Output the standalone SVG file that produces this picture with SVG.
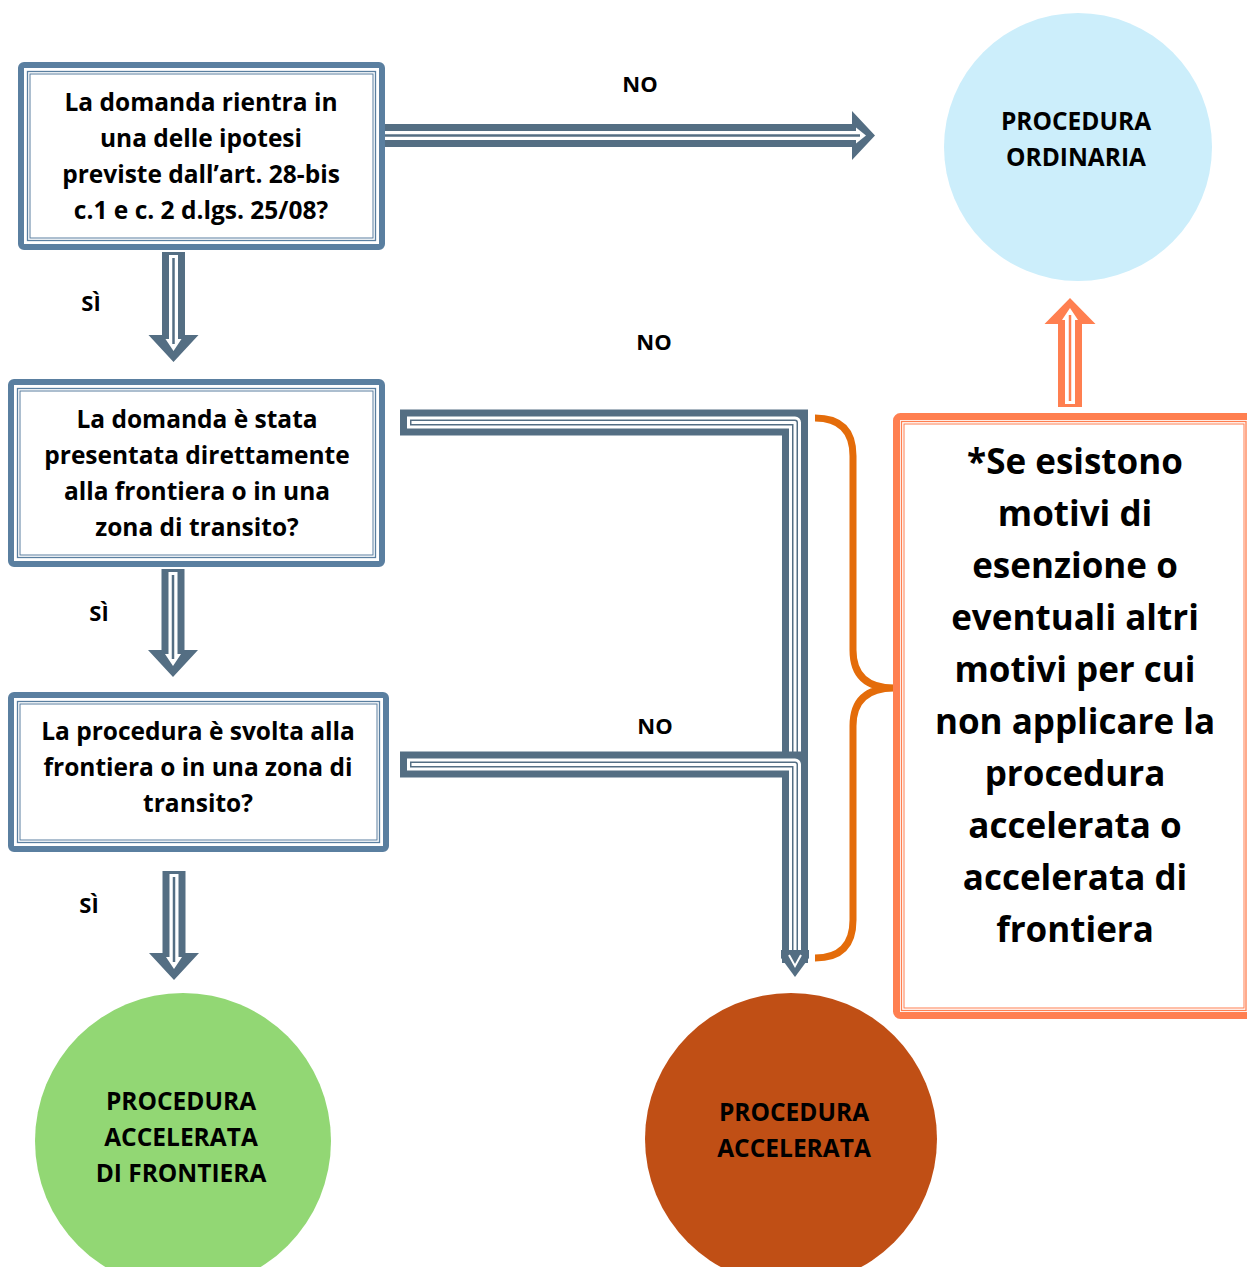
<svg xmlns="http://www.w3.org/2000/svg" width="1247" height="1267" viewBox="0 0 1247 1267">
<style>
text{font-family:"Open Sans","Liberation Sans",sans-serif;font-weight:bold;fill:#000;text-anchor:middle}
.bt{font-size:24.5px}
.lbl{font-size:22px}
.big{font-size:35px}
.bx{fill:#fff;stroke:#5A7FA0}
.ob{fill:#fff;stroke:#FF7F50}
.ad{fill:#546E83}
.aw{fill:#fff}
.al{fill:none;stroke:#546E83;stroke-width:2.5}
.od{fill:#FF7F50}
.ol{fill:none;stroke:#FF7F50;stroke-width:2.5}
.c1{fill:none;stroke:#546E83;stroke-width:26;stroke-linejoin:miter;stroke-linecap:square}
.c2{fill:none;stroke:#fff;stroke-width:12;stroke-linejoin:round;stroke-linecap:square}
.c3{fill:none;stroke:#546E83;stroke-width:6;stroke-linejoin:round;stroke-linecap:square}
.c4{fill:none;stroke:#fff;stroke-width:3;stroke-linejoin:round;stroke-linecap:square}
</style>
<rect width="1247" height="1267" fill="#fff"/>

<g id="connectors">
  <g transform="translate(378,135.5)">
    <path class="ad" d="M0,-11.5 H474 V-24.5 L497,0 L474,24.5 V11.5 H0 Z"/>
    <path class="aw" d="M3,-4.5 H478 V-8 L488,0 L478,8 V4.5 H3 Z"/>
    <path class="al" d="M6,0 H482"/>
  </g>
  <g transform="translate(173.5,252) rotate(90)">
    <path class="ad" d="M0,-11.5 H83 V-25 L110,0 L83,25 V11.5 H0 Z"/>
    <path class="aw" d="M3,-4.5 H87 V-8 L99,0 L87,8 V4.5 H3 Z"/>
    <path class="al" d="M6,0 H92"/>
  </g>
  <g transform="translate(173,569) rotate(90)">
    <path class="ad" d="M0,-11.5 H81 V-25 L108,0 L81,25 V11.5 H0 Z"/>
    <path class="aw" d="M3,-4.5 H85 V-8 L97,0 L85,8 V4.5 H3 Z"/>
    <path class="al" d="M6,0 H90"/>
  </g>
  <g transform="translate(174,871) rotate(90)">
    <path class="ad" d="M0,-11.5 H82 V-25 L109,0 L82,25 V11.5 H0 Z"/>
    <path class="aw" d="M3,-4.5 H86 V-8 L98,0 L86,8 V4.5 H3 Z"/>
    <path class="al" d="M6,0 H91"/>
  </g>
  <g transform="translate(1070,407) rotate(-90)">
    <path class="od" d="M0,-12 H83 V-25.5 L109,0 L83,25.5 V12 H0 Z"/>
    <path class="aw" d="M3,-5 H87 V-8 L99,0 L87,8 V5 H3 Z"/>
    <path class="ol" d="M6,0 H92"/>
  </g>
  <g>
    <path class="c1" d="M413,422.5 H795 V950"/>
    <path class="c2" d="M413,422.5 H795 V950"/>
    <path class="c3" d="M413,422.5 H795 V950"/>
    <path class="c4" d="M413,422.5 H795 V950"/>
  </g>
  <g>
    <path class="c1" d="M413,764.5 H795 V950"/>
    <path class="c2" d="M413,764.5 H795 V950"/>
    <path class="c3" d="M413,764.5 H795 V950"/>
    <path class="c4" d="M413,764.5 H795 V950"/>
  </g>
  <path class="ad" d="M781,950 H809 V958 L795,977 L781,958 Z"/>
  <path d="M789,955 L795,966 L801,955" fill="none" stroke="#fff" stroke-width="2"/>
  <path d="M815,418 Q853,418 853,456 V650 Q853,688 894,688 Q853,688 853,726 V920 Q853,958 815,958" fill="none" stroke="#E46C0A" stroke-width="7" stroke-linejoin="round"/>
</g>

<g id="labels">
  <text class="lbl" x="640" y="92">NO</text>
  <text class="lbl" x="654" y="350">NO</text>
  <text class="lbl" x="655" y="734">NO</text>
  <text class="lbl" x="91" y="311">SÌ</text>
  <text class="lbl" x="99" y="621">SÌ</text>
  <text class="lbl" x="89" y="913">SÌ</text>
</g>

<g id="q1">
  <rect class="bx" x="21" y="65" width="361" height="182" rx="3" stroke-width="6"/>
  <rect x="27.5" y="71.5" width="348" height="169" fill="none" stroke="#5A7FA0" stroke-width="1.3"/>
  <rect x="30" y="74" width="343" height="164" fill="none" stroke="#5A7FA0" stroke-width="1"/>
  <text class="bt" x="201" y="111">La domanda rientra in</text>
  <text class="bt" x="201" y="147">una delle ipotesi</text>
  <text class="bt" x="201" y="183">previste dall’art. 28-bis</text>
  <text class="bt" x="201" y="219">c.1 e c. 2 d.lgs. 25/08?</text>
</g>

<g id="q2">
  <rect class="bx" x="11" y="382" width="371" height="182" rx="3" stroke-width="6"/>
  <rect x="17.5" y="388.5" width="358" height="169" fill="none" stroke="#5A7FA0" stroke-width="1.3"/>
  <rect x="20" y="391" width="353" height="164" fill="none" stroke="#5A7FA0" stroke-width="1"/>
  <text class="bt" x="197" y="428">La domanda è stata</text>
  <text class="bt" x="197" y="464">presentata direttamente</text>
  <text class="bt" x="197" y="500">alla frontiera o in una</text>
  <text class="bt" x="197" y="536">zona di transito?</text>
</g>

<g id="q3">
  <rect class="bx" x="11" y="695" width="375" height="154" rx="3" stroke-width="6"/>
  <rect x="17.5" y="701.5" width="362" height="141" fill="none" stroke="#5A7FA0" stroke-width="1.3"/>
  <rect x="20" y="704" width="357" height="136" fill="none" stroke="#5A7FA0" stroke-width="1"/>
  <text class="bt" x="198" y="740">La procedura è svolta alla</text>
  <text class="bt" x="198" y="776">frontiera o in una zona di</text>
  <text class="bt" x="198" y="812">transito?</text>
</g>

<g id="note">
  <rect class="ob" x="896.5" y="416.5" width="356" height="599" rx="4" stroke-width="7"/>
  <rect x="901.5" y="421.5" width="344.5" height="589" fill="none" stroke="#FF7F50" stroke-width="1.3"/>
  <rect x="904" y="424" width="340" height="584" fill="none" stroke="#FF7F50" stroke-width="1"/>
  <text class="big" x="1075" y="473.5">*Se esistono</text>
  <text class="big" x="1075" y="525.6">motivi di</text>
  <text class="big" x="1075" y="577.7">esenzione o</text>
  <text class="big" x="1075" y="629.8">eventuali altri</text>
  <text class="big" x="1075" y="681.9">motivi per cui</text>
  <text class="big" x="1075" y="734">non applicare la</text>
  <text class="big" x="1075" y="786.1">procedura</text>
  <text class="big" x="1075" y="838.2">accelerata o</text>
  <text class="big" x="1075" y="890.3">accelerata di</text>
  <text class="big" x="1075" y="942.4">frontiera</text>
</g>

<g id="ordinaria">
  <circle cx="1078" cy="147" r="134" fill="#CCEEFB"/>
  <text class="bt" x="1076" y="129.5">PROCEDURA</text>
  <text class="bt" x="1076" y="165.5">ORDINARIA</text>
</g>

<g id="frontiera">
  <circle cx="183" cy="1141" r="148" fill="#92D774"/>
  <text class="bt" x="181" y="1109.5">PROCEDURA</text>
  <text class="bt" x="181" y="1145.5">ACCELERATA</text>
  <text class="bt" x="181" y="1181.5">DI FRONTIERA</text>
</g>

<g id="accelerata">
  <circle cx="791" cy="1139" r="146" fill="#C04F15"/>
  <text class="bt" x="794" y="1120.5">PROCEDURA</text>
  <text class="bt" x="794" y="1156.5">ACCELERATA</text>
</g>
</svg>
